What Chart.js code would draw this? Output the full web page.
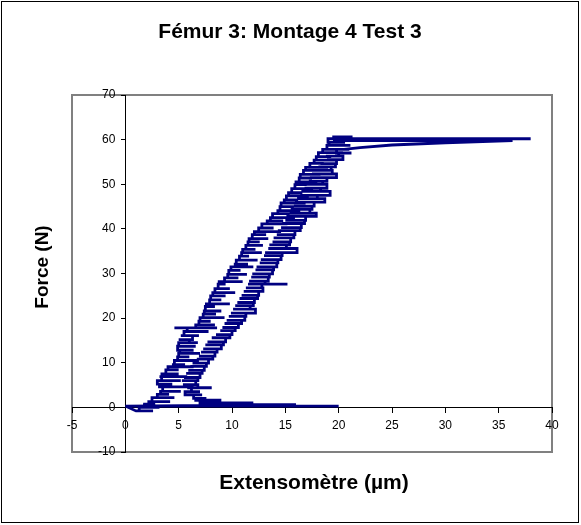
<!DOCTYPE html>
<html><head><meta charset="utf-8">
<script src="https://cdn.jsdelivr.net/npm/chart.js@4/dist/chart.umd.min.js"></script>
<style>html,body{margin:0;padding:0;background:#fff}#wrap{width:581px;height:525px;position:relative}canvas{display:block}</style>
</head><body><div id="wrap"><canvas id="c" width="581" height="525"></canvas></div>
<script>
const titleText = 'Fémur 3: Montage 4 Test 3';
const xTitle = 'Extensomètre (µm)';
const yTitle = 'Force (N)';
const xTicks = [-5, 0, 5, 10, 15, 20, 25, 30, 35, 40];
const yTicks = [-10, 0, 10, 20, 30, 40, 50, 60, 70];

// Force (N) levels, in recording order (loading, peak, unloading)
const forceLevels = [
  0.3, -0.8, 0.0, 0.7, 1.3, 2.2, 2.9, 3.6, 4.6, 5.2,
  6.0, 6.9, 7.5, 8.4, 9.1, 9.6, 10.5, 11.3, 12.1, 12.8,
  13.7, 14.5, 15.2, 16.1, 17.0, 17.8, 18.5, 19.3, 20.1, 20.9,
  21.6, 22.6, 23.2, 24.1, 25.0, 25.7, 26.6, 27.6, 28.2, 29.0,
  29.8, 30.7, 31.5, 32.1, 33.0, 33.9, 34.7, 35.4, 36.3, 37.1,
  37.8, 38.7, 39.4, 40.2, 41.1, 41.8, 42.5, 43.4, 44.1, 45.0,
  45.8, 46.5, 47.4, 48.1, 49.0, 49.9, 50.5, 51.4, 52.2, 53.1,
  53.8, 54.7, 55.4, 56.2, 57.1, 57.8, 58.7, 59.4, 60.2, 60.6,
  59.8, 59.3, 58.8, 58.2,
  57.8, 57.0, 56.3, 55.5, 54.6, 53.9, 53.1, 52.3, 51.5, 50.7,
  50.0, 49.1, 48.4, 47.5, 46.8, 46.0, 45.1, 44.4, 43.5, 42.8,
  41.9, 41.2, 40.3, 39.6, 38.7, 38.0, 37.1, 36.4, 35.6, 34.7,
  34.0, 33.1, 32.4, 31.5, 30.8, 29.9, 29.2, 28.3, 27.6, 26.8,
  26.0, 25.1, 24.4, 23.5, 22.8, 22.0, 21.1, 20.4, 19.5, 18.8,
  17.9, 17.2, 16.3, 15.6, 14.7, 14.0, 13.1, 12.4, 11.5, 10.8,
  9.9, 9.2, 8.3, 7.6, 6.7, 6.0, 5.1, 4.4, 3.5, 2.8,
  2.0, 1.6, 1.0, 0.6, 0.3
];
// Extensomètre (µm) readings taken at each force level above, in order
const extensionStrokes = [
  [0.0], [1.0, 2.6, 1.3], [1.3, 3.2, 1.8], [1.8, 2.8, 2.2], [2.2, 4.2, 2.5], [2.5, 3.6, 2.9, 4.6, 3.0], [3.0, 4.1, 3.3], [3.3, 5.2, 3.5], [3.5, 6.4, 3.2], [3.2, 4.4, 3.0],
  [3.0, 5.2, 3.4], [3.4, 5.8, 3.2, 4.6], [4.6, 3.3, 5.0, 3.8], [3.8, 5.0, 4.0], [4.0, 6.4, 4.5], [4.5, 5.6, 4.6], [4.6, 6.9, 4.9], [4.9, 6.0, 5.0], [5.0, 7.0, 5.1], [5.1, 6.4, 4.9],
  [4.9, 6.6, 5.0], [5.0, 6.8, 5.1, 6.0], [6.0, 5.0, 6.3], [6.3, 5.2, 6.9, 5.5], [5.5, 7.8, 5.8], [5.8, 4.6, 8.6, 6.6], [6.6, 8.4, 6.9], [6.9, 8.0, 7.0], [7.0, 9.3, 7.3], [7.3, 8.5, 7.4],
  [7.4, 9.0, 7.5], [7.5, 8.4, 7.6], [7.6, 9.8, 7.9], [7.9, 9.0, 8.0], [8.0, 9.4, 8.2], [8.2, 10.3, 8.4], [8.4, 9.8, 8.7], [8.7, 9.4, 8.8], [8.8, 11.0, 9.3], [9.3, 10.6, 9.6],
  [9.6, 11.4, 9.7], [9.7, 10.8, 9.9], [9.9, 12.0, 10.3], [10.3, 11.5, 10.4], [10.4, 12.4, 10.7], [10.7, 11.6, 10.9], [10.9, 12.8, 11.0], [11.0, 12.2, 11.3], [11.3, 12.9, 11.5], [11.5, 12.6, 11.6],
  [11.6, 13.4, 11.9], [11.9, 13.2, 12.1], [12.1, 14.6, 12.5], [12.5, 13.9, 12.8], [12.8, 15.2, 13.3], [13.3, 14.8, 13.6], [13.6, 15.9, 13.8], [13.8, 15.4, 14.3], [14.3, 16.4, 14.5], [14.5, 15.8, 14.6],
  [14.6, 16.9, 14.9], [14.9, 16.2, 15.1], [15.1, 17.2, 15.3], [15.3, 16.6, 15.6], [15.6, 17.6, 15.9], [15.9, 17.0, 16.0], [16.0, 18.0, 16.3], [16.3, 17.5, 16.4], [16.4, 18.3, 16.7], [16.7, 18.0, 16.9],
  [16.9, 19.0, 17.3], [17.3, 18.6, 17.7], [17.7, 19.8, 17.9], [17.9, 19.3, 18.1], [18.1, 20.4, 18.5], [18.5, 20.0, 18.9], [18.9, 21.1, 19.1], [19.1, 20.6, 19.0], [19.0, 38.0, 21.0], [21.0, 19.4, 21.3, 19.6],
  [19.6, 36.3], [30.0], [25.0], [22.0],
  [20.5, 19.6, 21.0, 19.8], [19.8, 21.2, 20.0], [20.0, 18.8, 20.4], [20.4, 18.9, 19.8], [19.8, 18.3, 19.7], [19.7, 18.1, 19.3], [19.3, 17.7, 19.4], [19.4, 17.5, 19.8], [19.8, 17.3, 18.9], [18.9, 17.2, 18.5],
  [18.5, 16.9, 18.9], [18.9, 16.8, 18.3], [18.3, 16.5, 19.2], [19.2, 16.4, 18.0], [18.0, 16.1, 18.7], [18.7, 15.9, 17.7], [17.7, 15.8, 17.5], [17.5, 15.5, 17.3], [17.3, 15.4, 17.9], [17.9, 15.1, 16.9],
  [16.9, 15.0, 16.8], [16.8, 14.7, 16.5], [16.5, 14.6, 16.4], [16.4, 14.3, 15.9], [15.9, 14.2, 15.8], [15.8, 13.9, 15.5], [15.5, 13.8, 15.4], [15.4, 13.5, 15.1], [15.1, 13.4, 16.1], [16.1, 13.1, 14.7],
  [14.7, 13.0, 14.6], [14.6, 12.7, 14.3], [14.3, 12.6, 14.2], [14.2, 12.3, 13.9], [13.9, 12.2, 13.8], [13.8, 11.9, 13.5], [13.5, 11.8, 13.4], [13.4, 11.6, 13.1], [13.1, 11.5, 15.2, 12.8], [12.8, 11.3, 12.9],
  [12.9, 11.1, 12.5], [12.5, 10.9, 12.4], [12.4, 10.7, 12.1], [12.1, 10.5, 12.0], [12.0, 10.3, 11.7], [11.7, 10.1, 12.2], [12.2, 9.9, 11.3], [11.3, 9.7, 11.2], [11.2, 9.5, 10.9], [10.9, 9.3, 10.6],
  [10.6, 9.1, 10.3], [10.3, 8.9, 10.0], [10.0, 8.5, 9.8], [9.8, 8.1, 9.4], [9.4, 7.7, 9.2], [9.2, 7.5, 9.0], [9.0, 7.3, 8.6], [8.6, 7.1, 8.4], [8.4, 6.9, 8.2], [8.2, 6.7, 7.8],
  [7.8, 6.3, 7.6], [7.6, 6.1, 7.4], [7.4, 5.9, 7.2], [7.2, 5.7, 7.0], [7.0, 5.5, 6.8], [6.8, 5.3, 6.6], [6.6, 5.4, 6.8], [6.8, 5.8, 8.1, 6.2], [6.2, 7.0, 5.6], [5.6, 7.2, 6.4],
  [6.4, 7.6, 6.6], [6.6, 9.0, 7.0], [7.0, 12.0, 7.2], [7.2, 16.0], [0.0, 20.0, 1.0]
];

const points = [];
forceLevels.forEach((f, i) => { extensionStrokes[i].forEach(x => points.push({x: x, y: f})); });
const FONT = "'Liberation Sans', Arial, sans-serif";

const deco = {
  id: 'deco',
  beforeDraw(chart) {
    const ctx = chart.ctx, a = chart.chartArea;
    ctx.save();
    ctx.fillStyle = '#fff';
    ctx.fillRect(0, 0, chart.width, chart.height);
    ctx.strokeStyle = '#000';
    ctx.lineWidth = 1;
    ctx.strokeRect(1.5, 1.5, 577, 521);
    ctx.strokeStyle = '#808080';
    ctx.lineWidth = 2;
    ctx.strokeRect(a.left, a.top, a.right - a.left, a.bottom - a.top);
    ctx.restore();
    // place the y tick labels on the outer (left) side of the crossing axis
    const items = chart.scales.y.getLabelItems(chart.chartArea);
    if (!items._shifted) {
      items.forEach(it => { it.options.translation[0] -= 10; });
      items._shifted = true;
    }
    const xItems = chart.scales.x.getLabelItems(chart.chartArea);
    if (!xItems._shifted) {
      xItems.forEach(it => { it.options.translation[1] += 2; });
      xItems._shifted = true;
    }
  },
  afterDraw(chart) {
    const ctx = chart.ctx;
    ctx.save();
    ctx.fillStyle = '#000';
    ctx.textAlign = 'center';
    ctx.textBaseline = 'middle';
    ctx.font = 'bold 21px ' + FONT;
    ctx.fillText(titleText, 290, 32);
    ctx.fillText(xTitle, 314, 483);
    ctx.translate(43, 267);
    ctx.rotate(-Math.PI / 2);
    ctx.font = 'bold 19px ' + FONT;
    ctx.fillText(yTitle, 0, 0);
    ctx.restore();
  }
};

new Chart(document.getElementById('c'), {
  type: 'scatter',
  data: {
    datasets: [{
      data: points,
      showLine: true,
      borderColor: '#000080',
      backgroundColor: '#000080',
      borderWidth: 2.8,
      pointRadius: 0,
      tension: 0
    }]
  },
  options: {
    responsive: false,
    animation: false,
    devicePixelRatio: 1,
    layout: {padding: {left: 72, right: 29, top: 95, bottom: 73}},
    plugins: {legend: {display: false}, tooltip: {enabled: false}, title: {display: false}},
    scales: {
      x: {
        type: 'linear', min: -5, max: 40,
        position: {y: 0},
        afterBuildTicks: s => { s.ticks = xTicks.map(v => ({value: v})); },
        grid: {display: true, drawOnChartArea: false, drawTicks: true, tickLength: 5, color: '#000'},
        border: {display: true, color: '#000', width: 1},
        ticks: {color: '#000', font: {family: FONT, size: 12}, padding: 4, maxRotation: 0, autoSkip: false}
      },
      y: {
        type: 'linear', min: -10, max: 70,
        position: {x: 0},
        afterBuildTicks: s => { s.ticks = yTicks.map(v => ({value: v})); },
        grid: {display: true, drawOnChartArea: false, drawTicks: true, tickLength: 4, color: '#000'},
        border: {display: true, color: '#000', width: 1},
        ticks: {color: '#000', font: {family: FONT, size: 12}, padding: 5, autoSkip: false}
      }
    }
  },
  plugins: [deco]
});
</script>
</body></html>
